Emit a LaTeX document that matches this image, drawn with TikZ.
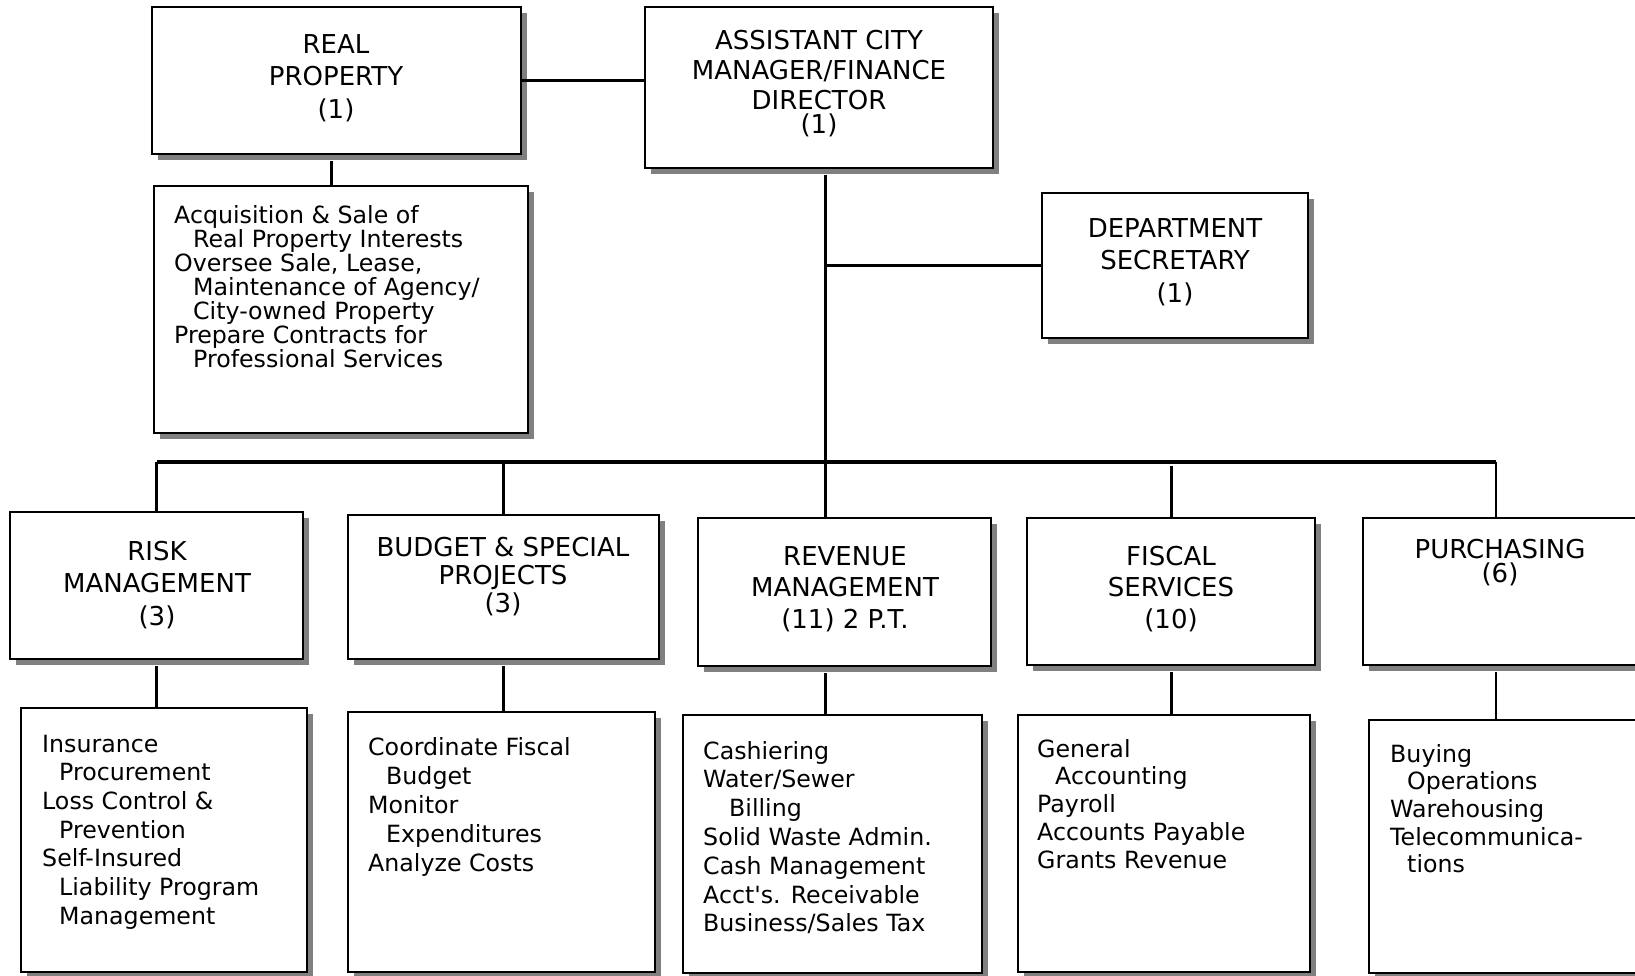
\documentclass[tikz,border=0pt]{standalone}
\usepackage{fontspec}
\setmainfont{DejaVu Sans}[Ligatures=TeXOff]
\usetikzlibrary{shadows}
\definecolor{shgray}{RGB}{128,128,128}
\newcommand\ctxt[2]{\vtop{\baselineskip=#1\lineskiplimit=-100pt\lineskip=0pt\halign{\hfil##\hfil\cr#2\crcr}}}
\newcommand\ltxt[2]{\vtop{\baselineskip=#1\lineskiplimit=-100pt\lineskip=0pt\halign{##\hfil\cr#2\crcr}}}
\newcommand\ind[1]{\hskip#1\relax}
\begin{document}
\begin{tikzpicture}[x=1pt,y=-1pt,
  box/.style={draw, line width=2.7pt, fill=white, inner sep=0pt,
    drop shadow={shadow xshift=6pt, shadow yshift=-6pt, fill=shgray, opacity=1}},
  thinbox/.style={box, line width=2.2pt},
  conn/.style={line width=3pt},
  thinconn/.style={line width=2.4pt},
  barline/.style={line width=4pt},
  ttl/.style={inner sep=0pt, anchor=base, font=\fontsize{26}{30}\selectfont},
  dsc/.style={inner sep=0pt, anchor=base west, font=\fontsize{23.7}{28}\selectfont}]
\useasboundingbox (0,0) rectangle (1635,975);
\fill[white] (0,0) rectangle (1635,975);
\clip (0,0) rectangle (1635,975);

% boxes
\node[box, minimum width=369pt, minimum height=147pt] (rp) at (336.5,80.5) {};
\node[box, minimum width=348pt, minimum height=161pt] (acm) at (819,87.5) {};
\node[box, minimum width=266pt, minimum height=145pt] (ds) at (1175,265.5) {};
\node[box, minimum width=374pt, minimum height=247pt] (rpd) at (341,309.5) {};
\node[box, minimum width=293pt, minimum height=147pt] (risk) at (156.5,585.5) {};
\node[box, minimum width=311pt, minimum height=144pt] (bud) at (503.5,587) {};
\node[box, minimum width=293pt, minimum height=148pt] (rev) at (844.5,592) {};
\node[box, minimum width=288pt, minimum height=147pt] (fis) at (1171,591.5) {};
\node[thinbox, minimum width=297pt, minimum height=147pt] (pur) at (1511.5,591.5) {};
\node[box, minimum width=286pt, minimum height=264pt] (riskd) at (164,840) {};
\node[box, minimum width=307pt, minimum height=260pt] (budd) at (501.5,842) {};
\node[box, minimum width=299pt, minimum height=258pt] (revd) at (832.5,844) {};
\node[box, minimum width=292pt, minimum height=257pt] (fisd) at (1164,843.5) {};
\node[thinbox, minimum width=291pt, minimum height=253pt] (purd) at (1514.5,846.5) {};

% junction points
\coordinate (hub) at (825,462);
\coordinate (barL) at (156.5,462);
\coordinate (barR) at (1496,462);

% connectors
\draw[conn] (rp.east) -- (acm.west |- rp.east);
\draw[conn] ([xshift=-5pt,yshift=-6pt]rp.south) -- ([xshift=-5pt]rp.south |- rpd.north);
\draw[conn] ([yshift=-6pt]acm.south -| hub) -- (hub);
\draw[conn] (hub |- ds.west) -- (ds.west);
\draw[barline] (barL) -- (barR);
\draw[conn] (barL) -- (risk.north);
\draw[conn] (bud.north |- hub) -- (bud.north);
\draw[conn] (hub) -- (hub |- rev.north);
\draw[conn] ([yshift=-4pt]fis.north |- hub) -- (fis.north);
\draw[thinconn] (barR) -- (barR |- pur.north);
\draw[conn] ([yshift=-6pt]risk.south) -- (risk.south |- riskd.north);
\draw[conn] ([yshift=-6pt]bud.south) -- (bud.south |- budd.north);
\draw[conn] ([yshift=-6pt]hub |- rev.south) -- (hub |- revd.north);
\draw[conn] ([yshift=-6pt]fis.south) -- (fis.south |- fisd.north);
\draw[thinconn] ([yshift=-6pt]barR |- pur.south) -- (barR |- purd.north);

% titles
\node[ttl] (rpt) at (336,53) {\ctxt{32.5pt}{REAL\cr PROPERTY\cr (1)}};
\node[ttl] (acmt) at (819,49) {\ctxt{30pt}{ASSISTANT CITY\cr MANAGER/FINANCE\cr DIRECTOR\cr\noalign{\vskip-6pt}(1)}};
\node[ttl] (dst) at (1175,237) {\ctxt{32.5pt}{DEPARTMENT\cr SECRETARY\cr (1)}};
\node[ttl] (riskt) at (157,560) {\ctxt{32.5pt}{RISK\cr MANAGEMENT\cr (3)}};
\node[ttl] (budt) at (503,556) {\ctxt{28pt}{BUDGET \& SPECIAL\cr PROJECTS\cr (3)}};
\node[ttl] (revt) at (845,565) {\ctxt{31.5pt}{REVENUE\cr MANAGEMENT\cr (11) 2 P.T.}};
\node[ttl] (fist) at (1171,565) {\ctxt{31.5pt}{FISCAL\cr SERVICES\cr (10)}};
\node[ttl] (purt) at (1500,558) {\ctxt{24pt}{PURCHASING\cr (6)}};

% descriptions
\node[dsc] (rpdt) at (174,223) {\ltxt{24pt}{Acquisition \& Sale of\cr
  \ind{19pt}Real Property Interests\cr
  Oversee Sale, Lease,\cr
  \ind{19pt}Maintenance of Agency/\cr
  \ind{19pt}City-owned Property\cr
  Prepare Contracts for\cr
  \ind{19pt}Professional Services}};
\node[dsc] (riskdt) at (42,752) {\ltxt{28.7pt}{Insurance\cr
  \ind{17pt}Procurement\cr
  Loss Control \&\cr
  \ind{17pt}Prevention\cr
  Self-Insured\cr
  \ind{17pt}Liability Program\cr
  \ind{17pt}Management}};
\node[dsc] (buddt) at (368,755) {\ltxt{29.2pt}{Coordinate Fiscal\cr
  \ind{18pt}Budget\cr
  Monitor\cr
  \ind{18pt}Expenditures\cr
  Analyze Costs}};
\node[dsc] (revdt) at (703,759) {\ltxt{28.8pt}{Cashiering\cr
  Water/Sewer\cr
  \ind{26pt}Billing\cr
  Solid Waste Admin.\cr
  Cash Management\cr
  Acct's. Receivable\cr
  Business/Sales Tax}};
\node[dsc] (fisdt) at (1037,757) {\ltxt{27.9pt}{General\cr
  \ind{18pt}Accounting\cr
  Payroll\cr
  Accounts Payable\cr
  Grants Revenue}};
\node[dsc] (purdt) at (1390,762) {\ltxt{27.7pt}{Buying\cr
  \ind{17pt}Operations\cr
  Warehousing\cr
  Telecommunica-\cr
  \ind{17pt}tions}};
\end{tikzpicture}
\end{document}
